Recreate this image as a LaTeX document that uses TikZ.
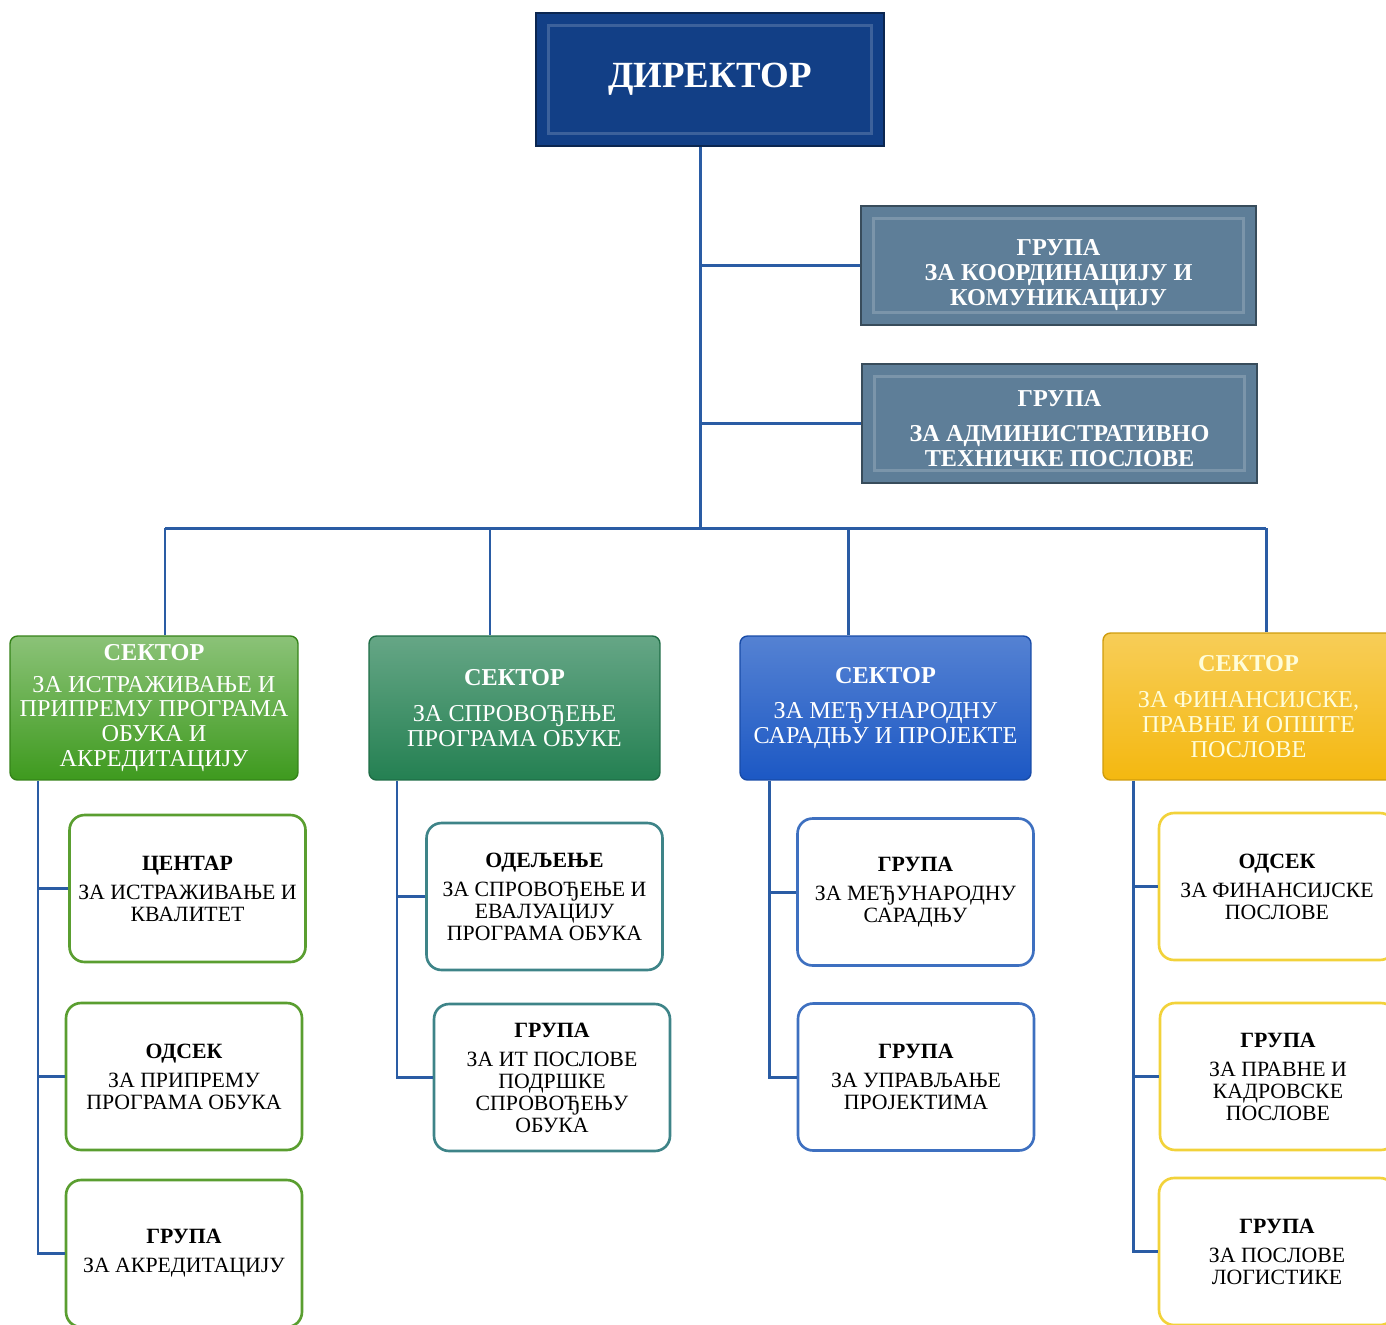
\documentclass[tikz,border=0pt]{standalone}
\usepackage{fontspec}
\setmainfont{Liberation Serif}
\usetikzlibrary{calc}

\definecolor{lineblue}{HTML}{2A5CA4}
\definecolor{dirblue}{HTML}{123F86}
\definecolor{grpblue}{HTML}{5E7E98}
\definecolor{secgreen}{HTML}{3E9A1E}
\definecolor{secteal}{HTML}{248052}
\definecolor{secblue}{HTML}{1C58C4}
\definecolor{secyellow}{HTML}{F4B810}
\definecolor{edgegreen}{HTML}{5A9E30}
\definecolor{edgeteal}{HTML}{3E8488}
\definecolor{edgeblue}{HTML}{3E70C0}
\definecolor{edgeyellow}{HTML}{F2D23A}

\begin{document}
\begin{tikzpicture}[x=0.02cm,y=-0.02cm,
    conn/.style={draw=lineblue,line width=1.7pt},
    bevel/.style={path picture={
        \draw[white,opacity=0.18,line width=1.5pt]
          ($(path picture bounding box.north west)+(0.25cm,-0.25cm)$) rectangle
          ($(path picture bounding box.south east)+(-0.25cm,0.25cm)$);}},
    headbox/.style={draw=#1!60!black,fill=#1,bevel,text=white,align=center,
        line width=1.2pt,font=\bfseries\fontsize{13.8}{14.2}\selectfont,
        minimum width=7.9cm,minimum height=2.38cm},
    sector/.style 2 args={draw=#2!85!black,top color=#1,bottom color=#2,
        rounded corners=0.15cm,line width=0.8pt,text=white,align=center,
        font=\fontsize{13.8}{14.2}\selectfont,
        minimum width=5.82cm,minimum height=2.88cm},
    unit/.style={draw=#1,fill=white,rounded corners=0.3cm,line width=1.5pt,
        align=center,font=\fontsize{12.4}{12.5}\selectfont,
        minimum width=4.72cm,minimum height=2.94cm}]
  \clip (0,0) rectangle (1386,1325);

  \node[headbox=dirblue,minimum width=6.96cm,minimum height=2.66cm,
        font=\bfseries\fontsize{21}{24}\selectfont] (dir) at (710,79.5) {ДИРЕКТОР};
  \node[headbox=grpblue] (g1) at (1058.5,265.5)
    {\rule{0pt}{20.5pt}ГРУПА\\ ЗА КООРДИНАЦИЈУ И\\ КОМУНИКАЦИЈУ};
  \node[headbox=grpblue] (g2) at (1059.5,423.5)
    {\rule{0pt}{14.7pt}ГРУПА\\[6pt] ЗА АДМИНИСТРАТИВНО\\ ТЕХНИЧКЕ ПОСЛОВЕ};

  \node[sector={secgreen!60!white}{secgreen},minimum width=5.76cm] (s1) at (154,708)
    {\textbf{СЕКТОР}\\[4pt] ЗА ИСТРАЖИВАЊЕ И\\ ПРИПРЕМУ ПРОГРАМА\\ ОБУКА И\\ АКРЕДИТАЦИЈУ};
  \node[sector={secteal!70!white}{secteal}] (s2) at (514.5,708)
    {\textbf{СЕКТОР}\\[6pt] ЗА СПРОВОЂЕЊЕ\\ ПРОГРАМА ОБУКЕ};
  \node[sector={secblue!75!white}{secblue}] (s3) at (885.5,708)
    {\textbf{СЕКТОР}\\[6pt] ЗА МЕЂУНАРОДНУ\\ САРАДЊУ И ПРОЈЕКТЕ};
  \node[sector={secyellow!70!white}{secyellow},minimum height=2.94cm,
        text=yellow!15] (s4) at (1248.5,706.5)
    {\textbf{СЕКТОР}\\[6pt] ЗА ФИНАНСИЈСКЕ,\\ ПРАВНЕ И ОПШТЕ\\ ПОСЛОВЕ};

  \node[unit=edgegreen] (a1) at (187.5,888.5) {\textbf{ЦЕНТАР}\\[4pt] ЗА ИСТРАЖИВАЊЕ И\\ КВАЛИТЕТ};
  \node[unit=edgegreen] (a2) at (184,1076.5) {\textbf{ОДСЕК}\\[4pt] ЗА ПРИПРЕМУ\\ ПРОГРАМА ОБУКА};
  \node[unit=edgegreen] (a3) at (184,1253.5) {\textbf{ГРУПА}\\[4pt] ЗА АКРЕДИТАЦИЈУ};

  \node[unit=edgeteal] (b1) at (544.5,896.5) {\textbf{ОДЕЉЕЊЕ}\\[4pt] ЗА СПРОВОЂЕЊЕ И\\ ЕВАЛУАЦИЈУ\\ ПРОГРАМА ОБУКА};
  \node[unit=edgeteal] (b2) at (552,1077.5) {\textbf{ГРУПА}\\[4pt] ЗА ИТ ПОСЛОВЕ\\ ПОДРШКЕ\\ СПРОВОЂЕЊУ\\ ОБУКА};

  \node[unit=edgeblue] (c1) at (915.5,892) {\textbf{ГРУПА}\\[4pt] ЗА МЕЂУНАРОДНУ\\ САРАДЊУ};
  \node[unit=edgeblue] (c2) at (916,1077) {\textbf{ГРУПА}\\[4pt] ЗА УПРАВЉАЊЕ\\ ПРОЈЕКТИМА};

  \node[unit=edgeyellow] (d1) at (1277,886.5) {\textbf{ОДСЕК}\\[4pt] ЗА ФИНАНСИЈСКЕ\\ ПОСЛОВЕ};
  \node[unit=edgeyellow] (d2) at (1278,1076.5) {\textbf{ГРУПА}\\[4pt] ЗА ПРАВНЕ И\\ КАДРОВСКЕ\\ ПОСЛОВЕ};
  \node[unit=edgeyellow] (d3) at (1277,1251.5) {\textbf{ГРУПА}\\[4pt] ЗА ПОСЛОВЕ\\ ЛОГИСТИКЕ};

  \coordinate (trunk) at (700,528);
  \coordinate (k1) at (165,528);
  \coordinate (k2) at (490,528);
  \coordinate (k3) at (848,528);
  \coordinate (k4) at (1266,528);
  \coordinate (v1) at (38,0);
  \coordinate (v2) at (397,0);
  \coordinate (v3) at (769,0);
  \coordinate (v4) at (1133,0);

  \draw[conn] (dir.south -| trunk) -- (trunk);
  \draw[conn] (g1.west) -- (g1.west -| trunk);
  \draw[conn] (g2.west) -- (g2.west -| trunk);
  \draw[conn] (k1) -- (k4);
  \foreach \k/\s in {k1/s1,k2/s2,k3/s3,k4/s4}
    \draw[conn] (\k) -- (\k |- \s.north);

  \draw[conn] (s1.south -| v1) |- (a3.west);
  \draw[conn] (s2.south -| v2) |- (b2.west);
  \draw[conn] (s3.south -| v3) |- (c2.west);
  \draw[conn] (s4.south -| v4) |- (d3.west);
  \foreach \b/\v in {a1/v1,a2/v1,b1/v2,c1/v3,d1/v4,d2/v4}
    \draw[conn] (\b.west) -- (\b.west -| \v);
\end{tikzpicture}
\end{document}
